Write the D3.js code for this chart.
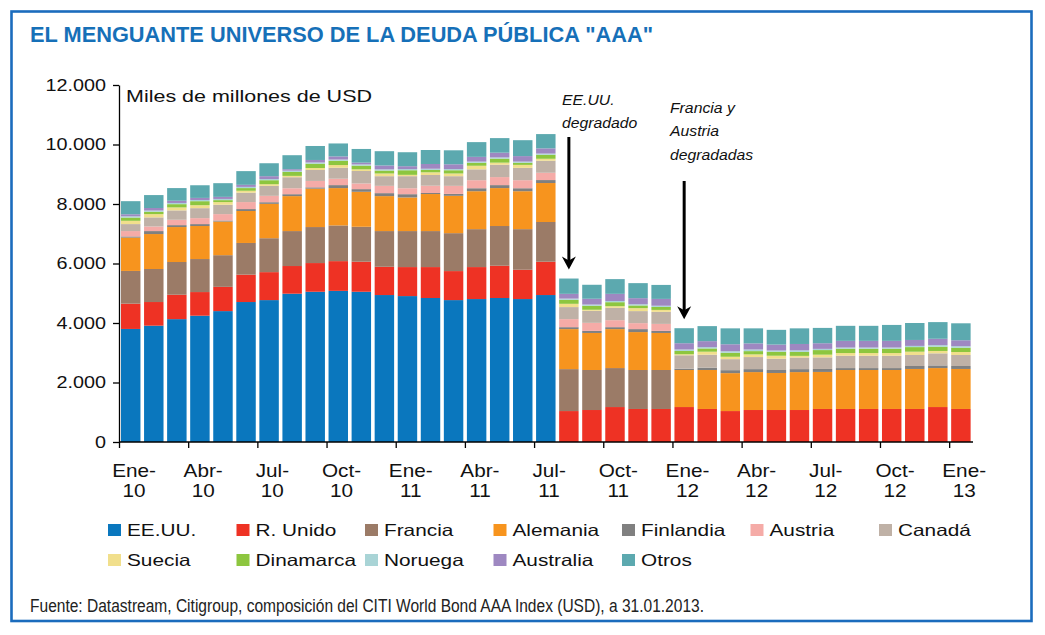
<!DOCTYPE html>
<html>
<head>
<meta charset="utf-8">
<script src="https://cdn.jsdelivr.net/npm/d3@7"></script>
<style>
  body { margin: 0; background: #fff; }
  text { font-family: "Liberation Sans", Arial, sans-serif; fill: #111; }
</style>
</head>
<body>
<div id="chart"></div>
<script>

// months Ene-10 .. Ene-13
var months = ["Ene-10","Feb-10","Mar-10","Abr-10","May-10","Jun-10","Jul-10","Ago-10","Sep-10","Oct-10","Nov-10","Dic-10",
              "Ene-11","Feb-11","Mar-11","Abr-11","May-11","Jun-11","Jul-11","Ago-11","Sep-11","Oct-11","Nov-11","Dic-11",
              "Ene-12","Feb-12","Mar-12","Abr-12","May-12","Jun-12","Jul-12","Ago-12","Sep-12","Oct-12","Nov-12","Dic-12",
              "Ene-13"];

var tickLabels = [["Ene-","10"],["Abr-","10"],["Jul-","10"],["Oct-","10"],["Ene-","11"],["Abr-","11"],["Jul-","11"],
                  ["Oct-","11"],["Ene-","12"],["Abr-","12"],["Jul-","12"],["Oct-","12"],["Ene-","13"]];

// miles de millones de USD
var eeuu = [3800,3910,4130,4245,4400,4705,4770,4985,5050,5080,5050,4940,4905,4840,4770,4805,4840,4805,4940,
            0,0,0,0,0,0,0,0,0,0,0,0,0,0,0,0,0,0];
var runido = [850,795,820,795,815,920,940,930,965,1000,1010,950,975,1040,975,1075,1085,985,1120,
              1040,1075,1175,1110,1110,1175,1110,1040,1075,1075,1075,1110,1110,1110,1110,1110,1175,1110];
var francia = [1100,1110,1100,1110,1065,1065,1140,1175,1210,1200,1175,1200,1210,1210,1275,1275,1335,1365,1335,
               1410,1345,1310,1310,1310,0,0,0,0,0,0,0,0,0,0,0,0,0];
var alemania = [1120,1175,1175,1110,1130,1075,1155,1175,1290,1255,1175,1175,1130,1245,1255,1275,1275,1275,1310,
                1345,1245,1310,1275,1245,1245,1310,1275,1275,1245,1275,1245,1310,1310,1310,1345,1310,1345];
var finlandia = [40,100,65,65,35,65,55,65,45,100,90,100,110,35,65,100,100,100,100,
                 65,70,65,100,70,45,80,100,100,100,100,100,65,65,65,100,90,100];
var austria = [180,155,180,200,215,235,215,200,215,215,190,245,200,245,270,270,270,270,245,
               270,270,235,200,235,0,0,0,0,0,0,0,0,0,0,0,0,0];
var canada = [235,305,315,335,315,315,335,370,370,370,420,325,405,360,325,365,415,415,405,
              405,405,415,405,405,450,435,370,405,380,390,390,415,415,415,370,405,370];
var suecia = [110,110,100,100,90,65,55,45,65,90,55,90,45,90,90,120,70,100,65,
              110,35,55,100,65,35,100,80,90,100,55,90,90,90,90,110,80,100];
var dinamarca = [110,80,110,135,65,90,135,135,145,145,125,100,155,80,110,100,135,70,135,
                 135,135,135,90,100,110,110,135,110,135,135,155,145,145,145,155,145,145];
var noruega = [40,40,40,40,40,40,40,40,40,40,40,40,40,40,40,40,40,40,40,
               40,40,40,40,40,50,45,50,55,40,50,40,40,40,40,40,50,50];
var australia = [70,85,75,70,70,70,95,50,85,105,60,130,95,160,160,160,160,185,175,
                 160,195,240,205,230,210,200,235,205,200,215,190,225,225,225,200,215,200];
var otros = [440,435,425,425,460,460,435,470,470,435,460,480,470,470,470,495,490,535,480,
             515,470,495,505,470,505,505,535,505,495,525,515,505,505,535,570,560,570];

var seriesNames = ["EE.UU.","R. Unido","Francia","Alemania","Finlandia","Austria","Canadá",
                   "Suecia","Dinamarca","Noruega","Australia","Otros"];
var seriesValues = [eeuu, runido, francia, alemania, finlandia, austria, canada,
                    suecia, dinamarca, noruega, australia, otros];
var colors = ["#0a77be","#ee3224","#9b7b67","#f7941e","#808080","#f5aba7","#bfb1a6",
              "#f1df8c","#8dc63f","#a9d4d6","#9e88c1","#5ca9af"];

var yTicks = [0,2000,4000,6000,8000,10000,12000];

// table for d3.stack
var table = months.map(function(m, i) {
    var row = { month: m };
    seriesNames.forEach(function(s, j) { row[s] = seriesValues[j][i]; });
    return row;
});

var width = 1045, height = 635;

var svg = d3.select("#chart").append("svg")
    .attr("width", width)
    .attr("height", height);

svg.append("rect")
    .attr("width", width).attr("height", height)
    .attr("fill", "#fff");

// frame
svg.append("rect")
    .attr("x", 11.5).attr("y", 11.5)
    .attr("width", 1020).attr("height", 609.5)
    .attr("fill", "none")
    .attr("stroke", "#1b6cbd")
    .attr("stroke-width", 2.6);

// squeeze or widen a text to a factor of its natural width
function stretch(sel, sx) {
    sel.each(function() {
        var w = this.getComputedTextLength();
        d3.select(this).attr("textLength", w * sx).attr("lengthAdjust", "spacingAndGlyphs");
    });
}
function fitTo(sel, target) {
    sel.each(function() {
        d3.select(this).attr("textLength", target).attr("lengthAdjust", "spacingAndGlyphs");
    });
}

// title
var title = svg.append("text")
    .attr("x", 30).attr("y", 42)
    .attr("font-size", 21.5)
    .attr("font-weight", "bold")
    .style("fill", "#1670b8")
    .text("EL MENGUANTE UNIVERSO DE LA DEUDA PÚBLICA \"AAA\"");
fitTo(title, 623);

// scales
var x = d3.scaleBand()
    .domain(months)
    .range([119, 119 + 37 * 23.06]);

var xi = d3.scaleLinear()
    .domain([0, months.length])
    .range(x.range());

var y = d3.scaleLinear()
    .domain([0, 12000])
    .range([442, 85]);

// bars
var stack = d3.stack().keys(seriesNames);
var layers = stack(table);

svg.append("g").selectAll("g")
    .data(layers)
    .enter().append("g")
    .attr("fill", function(d, i) { return colors[i]; })
    .selectAll("rect")
    .data(function(d) { return d; })
    .enter().append("rect")
    .attr("x", function(d) { return x(d.data.month) + 2; })
    .attr("width", x.bandwidth() - 3.6)
    .attr("y", function(d) { return y(d[1]); })
    .attr("height", function(d) { return y(d[0]) - y(d[1]); });

// y axis
var yAxis = svg.append("g")
    .attr("transform", "translate(119,0)")
    .call(d3.axisLeft(y)
        .tickValues(yTicks)
        .tickSize(6)
        .tickSizeOuter(0)
        .tickPadding(7)
        .tickFormat(function(d) { return d === 0 ? "0" : d3.format(",")(d).replace(/,/g, "."); }));
yAxis.select(".domain").attr("stroke", "#000").attr("stroke-width", 1.3);
yAxis.selectAll(".tick line").attr("stroke", "#000").attr("stroke-width", 1.3);
yAxis.selectAll(".tick text")
    .attr("font-size", 16.5)
    .attr("font-family", "Liberation Sans, Arial, sans-serif")
    .attr("fill", "#111");
stretch(yAxis.selectAll(".tick text"), 1.2);

// x axis
var xAxis = svg.append("g")
    .attr("transform", "translate(0,442)")
    .call(d3.axisBottom(xi)
        .tickValues(d3.range(0, months.length, 3))
        .tickSize(6)
        .tickSizeOuter(0)
        .tickFormat(""));
xAxis.select(".domain").attr("stroke", "#000").attr("stroke-width", 1.3)
    .attr("d", "M119,0H973");
xAxis.selectAll(".tick line").attr("stroke", "#000").attr("stroke-width", 1.3);

var xl = svg.append("g").selectAll("text")
    .data(tickLabels)
    .enter().append("text")
    .attr("text-anchor", "middle")
    .attr("font-size", 18.5)
    .attr("transform", function(d, i) { return "translate(" + (xi(i * 3) + 15) + ",0)"; });
xl.append("tspan").attr("x", 0).attr("y", 477).text(function(d) { return d[0]; });
xl.append("tspan").attr("x", 0).attr("y", 497).text(function(d) { return d[1]; });
stretch(xl.selectAll("tspan"), 1.12);

// unit label
var unit = svg.append("text")
    .attr("x", 126).attr("y", 102)
    .attr("font-size", 17)
    .text("Miles de millones de USD");
fitTo(unit, 246);

// downgrade arrows
function arrow(idx, yStart) {
    var total = d3.sum(seriesValues, function(s) { return s[idx]; });
    var cx = x(months[idx]) + 2 + (x.bandwidth() - 3.6) / 2;
    var tip = y(total) - 9;
    svg.append("line")
        .attr("x1", cx).attr("x2", cx)
        .attr("y1", yStart).attr("y2", tip - 8)
        .attr("stroke", "#000").attr("stroke-width", 3);
    svg.append("path")
        .attr("d", "M" + cx + "," + tip + "L" + (cx - 7) + "," + (tip - 13) +
                   "L" + cx + "," + (tip - 9) + "L" + (cx + 7) + "," + (tip - 13) + "Z")
        .attr("fill", "#000");
}
arrow(months.indexOf("Ago-11"), 137);
arrow(months.indexOf("Ene-12"), 181);

var note1 = svg.append("g").attr("font-size", 15).attr("font-style", "italic");
note1.append("text").attr("x", 562).attr("y", 105).text("EE.UU.");
note1.append("text").attr("x", 562).attr("y", 128).text("degradado");
stretch(note1.selectAll("text"), 1.05);

var note2 = svg.append("g").attr("font-size", 15).attr("font-style", "italic");
note2.append("text").attr("x", 670).attr("y", 113).text("Francia y");
note2.append("text").attr("x", 670).attr("y", 136).text("Austria");
note2.append("text").attr("x", 670).attr("y", 160).text("degradadas");
stretch(note2.selectAll("text"), 1.05);

// legend
var legend = svg.append("g").selectAll("g")
    .data(seriesNames)
    .enter().append("g")
    .attr("transform", function(d, i) {
        var col = i < 7 ? i : i - 7, row = i < 7 ? 0 : 1;
        return "translate(" + (108 + col * 128.5) + "," + (524 + row * 30) + ")";
    });
legend.append("rect")
    .attr("width", 13).attr("height", 12)
    .attr("fill", function(d, i) { return colors[i]; });
var legText = legend.append("text")
    .attr("x", 19).attr("y", 12)
    .attr("font-size", 16.5)
    .text(function(d) { return d; });
stretch(legText, 1.26);

// source
var src = svg.append("text")
    .attr("x", 30).attr("y", 612)
    .attr("font-size", 17.5)
    .style("fill", "#222")
    .text("Fuente: Datastream, Citigroup, composición del CITI World Bond AAA Index (USD), a 31.01.2013.");
fitTo(src, 674);

</script>
</body>
</html>
